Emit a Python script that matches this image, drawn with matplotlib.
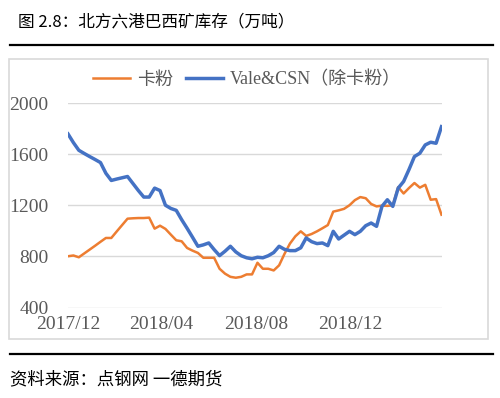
import numpy as np
import pandas as pd
import matplotlib.pyplot as plt
import matplotlib.dates as mdates
from matplotlib.patches import Rectangle
from matplotlib.lines import Line2D

plt.rcParams['font.family'] = ['Noto Sans CJK SC', 'DejaVu Sans']

# 周度数据 2017/12/01 - 2019/03/29
dates = pd.date_range('2017-12-01', periods=70, freq='7D')

carajas = [801, 807, 793, 823, 853, 883, 914, 944, 944, 995,
           1045, 1095, 1098, 1100, 1100, 1103, 1017, 1040, 1015, 970,
           926, 918, 866, 845, 827, 789, 789, 789, 703, 665,
           640, 633, 640, 659, 659, 750, 703, 703, 690, 730,
           820, 900, 957, 996, 960, 975, 996, 1020, 1045, 1150,
           1160, 1172, 1200, 1240, 1264, 1255, 1210, 1191, 1197, 1195,
           1200, 1342, 1292, 1335, 1374, 1338, 1360, 1243, 1248, 1126]

vale_csn = [1758, 1690, 1630, 1605, 1581, 1558, 1534, 1450, 1394, 1405,
            1415, 1425, 1370, 1315, 1264, 1264, 1334, 1315, 1200, 1175,
            1160, 1087, 1020, 950, 879, 890, 905, 853, 806, 840,
            879, 835, 805, 789, 781, 793, 789, 805, 830, 879,
            855, 845, 845, 867, 944, 915, 900, 905, 884, 996,
            936, 966, 996, 970, 996, 1040, 1061, 1035, 1191, 1243,
            1191, 1334, 1386, 1480, 1581, 1607, 1672, 1693, 1685, 1815]

tick_dates = pd.to_datetime(['2017-12-01', '2018-04-01', '2018-08-01', '2018-12-01'])
tick_labels = ['2017/12', '2018/04', '2018/08', '2018/12']
y_ticks = [400, 800, 1200, 1600, 2000]

W, H = 500, 398
fig = plt.figure(figsize=(5, 3.98), dpi=100)

# 标题和上下黑线
fig.text(18 / W, 1 - 22 / H, '图 2.8：北方六港巴西矿库存（万吨）', fontsize=12,
         va='center', ha='left', color='black')
fig.add_artist(Line2D([10 / W, 493 / W], [1 - 44.5 / H, 1 - 44.5 / H], color='black', lw=1.6))
fig.add_artist(Line2D([10 / W, 493 / W], [1 - 353.5 / H, 1 - 353.5 / H], color='black', lw=1.6))
fig.text(10 / W, 1 - 379 / H, '资料来源：点钢网 一德期货', fontsize=12.5,
         va='center', ha='left', color='black')

# 图表外框
fig.add_artist(Rectangle((8.5 / W, 1 - 339 / H), (488 - 8.5) / W, (339 - 58.5) / H,
                         fill=False, edgecolor='#d9d9d9', lw=1.2))

ax = fig.add_axes([68 / W, 1 - 307.5 / H, (441.5 - 68) / W, (307.5 - 103) / H])
ax.plot(dates, carajas, color='#ED7D31', lw=1.8, label='卡粉')
ax.plot(dates, vale_csn, color='#4472C4', lw=2.5, label='Vale&CSN（除卡粉）')

ax.set_xlim(dates[0], dates[-1])
ax.set_ylim(400, 2000)
ax.set_yticks(y_ticks)
ax.set_yticklabels([str(v) for v in y_ticks], family='Liberation Serif', fontsize=14, color='#595959')
ax.set_xticks(tick_dates)
ax.set_xticklabels(tick_labels, family='Liberation Serif', fontsize=14, color='#595959')
ax.tick_params(length=0)
ax.tick_params(axis='y', pad=14)
ax.tick_params(axis='x', pad=6)
ax.grid(axis='y', color='#d9d9d9', lw=1)
ax.set_axisbelow(True)
for s in ax.spines.values():
    s.set_visible(False)

leg = fig.legend(loc='center', bbox_to_anchor=(247 / W, 1 - 80 / H), ncol=2, frameon=False,
                 prop={'family': ['Liberation Serif', 'Noto Sans CJK SC'], 'size': 13},
                 handlelength=2.05, columnspacing=0.7, handletextpad=0.4)
for t in leg.get_texts():
    t.set_color('#595959')

fig.savefig('out.png', dpi=100)
